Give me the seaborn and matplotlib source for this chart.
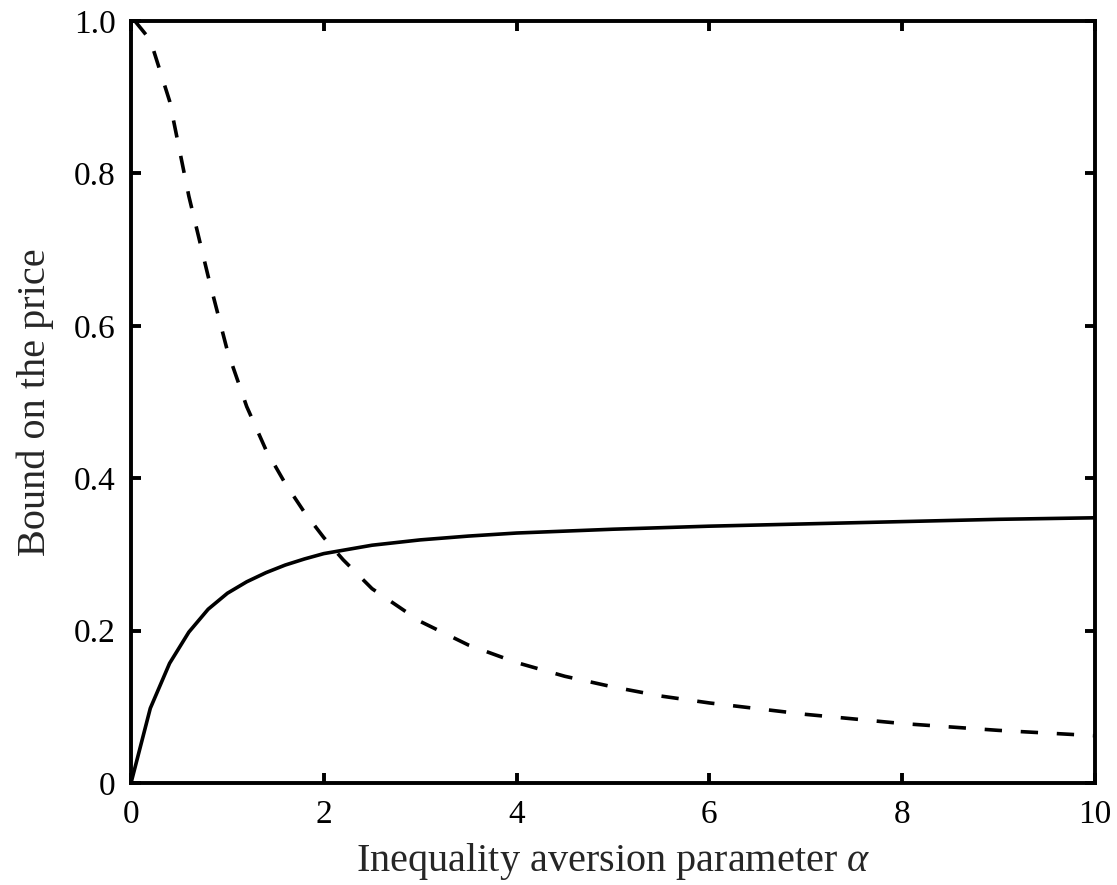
import matplotlib
matplotlib.use("Agg")
import matplotlib.pyplot as plt
import seaborn as sns
import pandas as pd

# values
alpha_solid = [0, 0.2, 0.4, 0.6, 0.8, 1.0, 1.2, 1.4, 1.6, 1.8, 2.0, 2.5, 3.0, 3.5, 4.0,
               5.0, 6.0, 7.0, 8.0, 9.0, 10.0]
bound_solid = [0, 0.098, 0.157, 0.198, 0.228, 0.249, 0.264, 0.276, 0.286, 0.294, 0.301,
               0.312, 0.319, 0.324, 0.328, 0.333, 0.337, 0.340, 0.343, 0.346, 0.348]

alpha_dashed = [0.04, 0.2, 0.4, 0.6, 0.8, 1.0, 1.2, 1.4, 1.6, 1.8, 2.0, 2.2, 2.5, 3.0, 3.5,
                4.0, 4.5, 5.0, 5.5, 6.0, 7.0, 8.0, 9.0, 10.0]
bound_dashed = [1.0, 0.975, 0.895, 0.77, 0.665, 0.567, 0.494, 0.437, 0.393, 0.355, 0.322,
                0.293, 0.255, 0.212, 0.181, 0.158, 0.140, 0.126, 0.114, 0.105, 0.090,
                0.078, 0.069, 0.062]

x_ticks = [0, 2, 4, 6, 8, 10]
y_ticks = [0, 0.2, 0.4, 0.6, 0.8, 1.0]
y_tick_labels = ["0", "0.2", "0.4", "0.6", "0.8", "1.0"]

sns.set_style("ticks")
plt.rcParams['font.family'] = ['Liberation Serif', 'DejaVu Serif']
plt.rcParams['mathtext.fontset'] = 'custom'
plt.rcParams['mathtext.it'] = 'Liberation Serif:italic'
plt.rcParams['mathtext.rm'] = 'Liberation Serif'

df_solid = pd.DataFrame({"alpha": alpha_solid, "bound": bound_solid})
df_dashed = pd.DataFrame({"alpha": alpha_dashed, "bound": bound_dashed})

fig = plt.figure(figsize=(11.17, 8.85), dpi=100)
ax = fig.add_axes([0.1173, 0.1153, 0.863, 0.861])

sns.lineplot(data=df_solid, x="alpha", y="bound", ax=ax, color="black", lw=2.6, sort=False)
sns.lineplot(data=df_dashed, x="alpha", y="bound", ax=ax, color="black", lw=2.6,
             sort=False, dashes=False)
ax.lines[-1].set_dashes((4.8, 5.2))

ax.set_xlim(0, 10)
ax.set_ylim(0, 1.0)
ax.set_xticks(x_ticks)
ax.set_xticklabels([str(t) for t in x_ticks])
ax.set_yticks(y_ticks)
ax.set_yticklabels(y_tick_labels)

for side in ["left", "right", "top", "bottom"]:
    ax.spines[side].set_visible(True)
    ax.spines[side].set_linewidth(2.8)
    ax.spines[side].set_color("black")

ax.tick_params(axis="both", which="major", direction="in", length=7, width=2.8,
               top=True, right=True, labelsize=24, colors="black")
ax.tick_params(axis="x", pad=12)
ax.tick_params(axis="y", pad=11)

ax.set_xlabel(r"Inequality aversion parameter $\alpha$", fontsize=29, labelpad=8)
ax.set_ylabel("Bound on the price", fontsize=29, labelpad=14)

fig.savefig("out.png", dpi=100)
